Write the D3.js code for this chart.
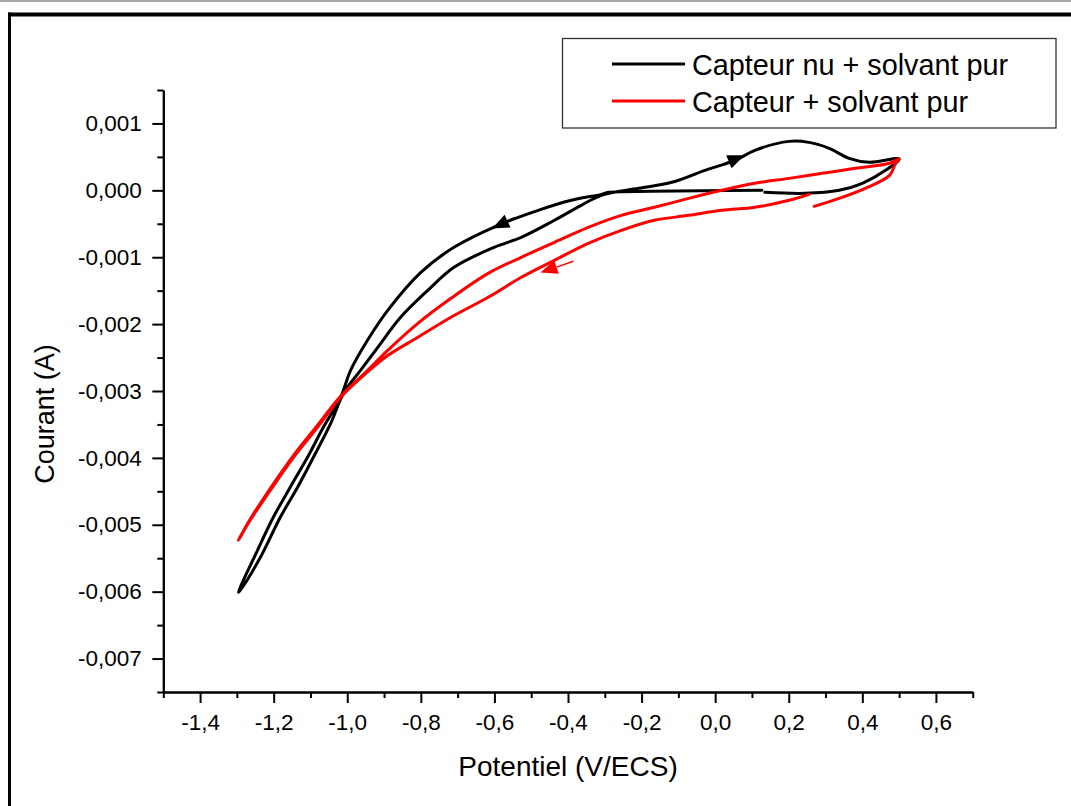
<!DOCTYPE html>
<html><head><meta charset="utf-8">
<script src="https://cdn.jsdelivr.net/npm/d3@7"></script>
<style>
body{margin:0;background:#fff}
svg{display:block}
text{font-family:"Liberation Sans",Arial,sans-serif;fill:#000}
</style>
</head><body>
<svg id="c" width="1071" height="806"></svg>
<script>
// ---------- data ----------
const seriesNames = ["Capteur nu + solvant pur", "Capteur + solvant pur"];
const seriesColors = ["#000000", "#ff0000"];

// Capteur nu + solvant pur : potential (V/ECS) and current (A)
const blackPotential = [0.127, -0.036, -0.173, -0.290, -0.309, -0.391, -0.481, -0.590, -0.710, -0.800, -0.890, -0.945, -0.991, -1.018, -1.065, -1.108, -1.155, -1.201, -1.244, -1.296,
  -1.291, -1.236, -1.182, -1.135, -1.092, -1.045, -1.010, -0.964, -0.917, -0.855, -0.781, -0.710, -0.601, -0.527, -0.437, -0.364, -0.309,
  -0.208, -0.118, -0.028, 0.054, 0.108, 0.201, 0.255, 0.310, 0.364, 0.419, 0.500,
  0.463, 0.400, 0.337, 0.245, 0.135];
const blackCurrent = [0, -0.000007, -0.000015, -0.00003, -0.00006, -0.000149, -0.000299, -0.000523, -0.000852, -0.001226, -0.001794, -0.002242, -0.002691, -0.003094, -0.003543, -0.003991, -0.004439, -0.004888, -0.005381, -0.006009,
  -0.005979, -0.005486, -0.004888, -0.004439, -0.003991, -0.003483, -0.003034, -0.002691, -0.002347, -0.001898, -0.001495, -0.001151, -0.000852, -0.000703, -0.000448, -0.000224, -0.000075,
  0.00003, 0.00012, 0.000299, 0.000448, 0.000598, 0.000732, 0.000717, 0.000628, 0.000478, 0.000419, 0.00047,
  0.000299, 0.000105, 0, -0.000045, -0.00003];

// Capteur + solvant pur
const redPotential = [0.255, 0.201, 0.108, 0.018, -0.072, -0.165, -0.255, -0.345, -0.437, -0.527, -0.617, -0.718, -0.808, -0.890, -0.950, -1.018, -1.081, -1.146, -1.209, -1.264, -1.296,
  -1.264, -1.209, -1.146, -1.081, -1.018, -0.950, -0.890, -0.808, -0.718, -0.617, -0.527, -0.437, -0.345, -0.255, -0.165, -0.072, 0.018, 0.108, 0.201, 0.291, 0.381, 0.474, 0.500,
  0.490, 0.474, 0.408, 0.337, 0.269];
const redCurrent = [-0.00006, -0.000149, -0.000254, -0.000299, -0.000374, -0.000448, -0.000598, -0.000792, -0.001046, -0.0013, -0.001599, -0.001898, -0.002197, -0.00247, -0.00274, -0.003094, -0.003543, -0.003991, -0.004484, -0.004933, -0.005232,
  -0.004918, -0.004454, -0.003961, -0.003513, -0.003079, -0.00272, -0.002392, -0.001988, -0.001614, -0.001241, -0.001001, -0.000777, -0.000553, -0.000374, -0.000254, -0.00012, 0, 0.000105, 0.000179, 0.000254, 0.000329, 0.000404, 0.00047,
  0.0004, 0.000224, 0.00003, -0.00012, -0.000239];

// scan-direction arrows: series index, tail [V, A], tip [V, A]
const arrowSeries = [0, 0, 1];
const arrowTail = [[0.025, 0.00040], [-0.545, -0.00041], [-0.385, -0.001061]];
const arrowTip = [[0.080, 0.000525], [-0.606, -0.00057], [-0.475, -0.00123]];

// axes
const xDomain = [-1.5, 0.7];
const yDomain = [-0.0075, 0.0015];
const xTickValues = [-1.4, -1.2, -1.0, -0.8, -0.6, -0.4, -0.2, 0.0, 0.2, 0.4, 0.6];
const xTickLabels = ["-1,4", "-1,2", "-1,0", "-0,8", "-0,6", "-0,4", "-0,2", "0,0", "0,2", "0,4", "0,6"];
const xMinorValues = [-1.5, -1.3, -1.1, -0.9, -0.7, -0.5, -0.3, -0.1, 0.1, 0.3, 0.5, 0.7];
const yTickValues = [0.001, 0, -0.001, -0.002, -0.003, -0.004, -0.005, -0.006, -0.007];
const yTickLabels = ["0,001", "0,000", "-0,001", "-0,002", "-0,003", "-0,004", "-0,005", "-0,006", "-0,007"];
const yMinorValues = [0.0015, 0.0005, -0.0005, -0.0015, -0.0025, -0.0035, -0.0045, -0.0055, -0.0065, -0.0075];
const xTitle = "Potentiel (V/ECS)";
const yTitle = "Courant (A)";

// ---------- drawing ----------
const svg = d3.select("#c");
svg.append("rect").attr("width", 1071).attr("height", 806).attr("fill", "#fff");
// page frame
svg.append("line").attr("x1", 0).attr("x2", 1071).attr("y1", 1).attr("y2", 1).attr("stroke", "#8a8a8a").attr("stroke-width", 1.6);
svg.append("rect").attr("x", 8).attr("y", 12.5).attr("width", 1063).attr("height", 4).attr("fill", "#000");
svg.append("rect").attr("x", 8).attr("y", 12.5).attr("width", 3).attr("height", 794).attr("fill", "#000");

const x = d3.scaleLinear().domain(xDomain).range([163.3, 972.7]);
const y = d3.scaleLinear().domain(yDomain).range([692, 90]);

const xLabelOf = new Map(xTickValues.map((v, i) => [v, xTickLabels[i]]));
const yLabelOf = new Map(yTickValues.map((v, i) => [v, yTickLabels[i]]));

function styleAxis(g) {
  g.selectAll("path.domain").attr("stroke", "#000").attr("stroke-width", 2);
  g.selectAll(".tick line").attr("stroke", "#000").attr("stroke-width", 2);
  g.selectAll("text").attr("font-size", 22.5).attr("fill", "#000")
    .attr("font-family", '"Liberation Sans", Arial, sans-serif');
}

// minor ticks
svg.append("g").attr("transform", "translate(0,692)")
  .call(d3.axisBottom(x).tickValues(xMinorValues).tickSize(6).tickSizeOuter(0).tickFormat(""))
  .call(styleAxis);
svg.append("g").attr("transform", "translate(163.3,0)")
  .call(d3.axisLeft(y).tickValues(yMinorValues).tickSize(6).tickSizeOuter(0).tickFormat(""))
  .call(styleAxis);
// major ticks
svg.append("g").attr("transform", "translate(0,692)")
  .call(d3.axisBottom(x).tickValues(xTickValues).tickSize(11).tickSizeOuter(0).tickPadding(11.3)
    .tickFormat(v => xLabelOf.get(v)))
  .call(styleAxis);
svg.append("g").attr("transform", "translate(163.3,0)")
  .call(d3.axisLeft(y).tickValues(yTickValues).tickSize(11).tickSizeOuter(0).tickPadding(10.5)
    .tickFormat(v => yLabelOf.get(v)))
  .call(styleAxis);

// axis titles
svg.append("text").attr("x", (x.range()[0] + x.range()[1]) / 2).attr("y", 776)
  .attr("text-anchor", "middle").attr("font-size", 28).text(xTitle);
svg.append("text").attr("transform", "translate(54,414) rotate(-90)")
  .attr("text-anchor", "middle").attr("font-size", 27).text(yTitle);

// curves
const line = d3.line().x(d => x(d[0])).y(d => y(d[1])).curve(d3.curveCatmullRom.alpha(0.5));
const series = [
  blackPotential.map((v, i) => [v, blackCurrent[i]]),
  redPotential.map((v, i) => [v, redCurrent[i]])
];
const plot = svg.append("g");
series.forEach((pts, k) => {
  plot.append("path").attr("d", line(pts)).attr("fill", "none")
    .attr("stroke", seriesColors[k]).attr("stroke-width", 3)
    .attr("stroke-linejoin", "round").attr("stroke-linecap", "round");
});

// arrows
arrowSeries.forEach((s, k) => {
  const tx = x(arrowTail[k][0]), ty = y(arrowTail[k][1]);
  const hx = x(arrowTip[k][0]), hy = y(arrowTip[k][1]);
  const ang = Math.atan2(hy - ty, hx - tx);
  const L = 17, W = 7;
  const bx = hx - L * Math.cos(ang), by = hy - L * Math.sin(ang);
  const px = -Math.sin(ang) * W, py = Math.cos(ang) * W;
  plot.append("line").attr("x1", tx).attr("y1", ty).attr("x2", bx).attr("y2", by)
    .attr("stroke", seriesColors[s]).attr("stroke-width", 1.5);
  plot.append("path").attr("d", `M${hx},${hy}L${bx + px},${by + py}L${bx - px},${by - py}Z`)
    .attr("fill", seriesColors[s]);
});

// legend
const lg = svg.append("g");
lg.append("rect").attr("x", 562.5).attr("y", 38.5).attr("width", 493.5).attr("height", 89.5)
  .attr("fill", "#fff").attr("stroke", "#333").attr("stroke-width", 1.3);
const legendY = [64, 101];
seriesNames.forEach((name, k) => {
  lg.append("line").attr("x1", 612).attr("x2", 685).attr("y1", legendY[k]).attr("y2", legendY[k])
    .attr("stroke", seriesColors[k]).attr("stroke-width", 3);
  lg.append("text").attr("x", 692).attr("y", legendY[k] + 11).attr("font-size", 28.8).text(name);
});
</script>
</body></html>
